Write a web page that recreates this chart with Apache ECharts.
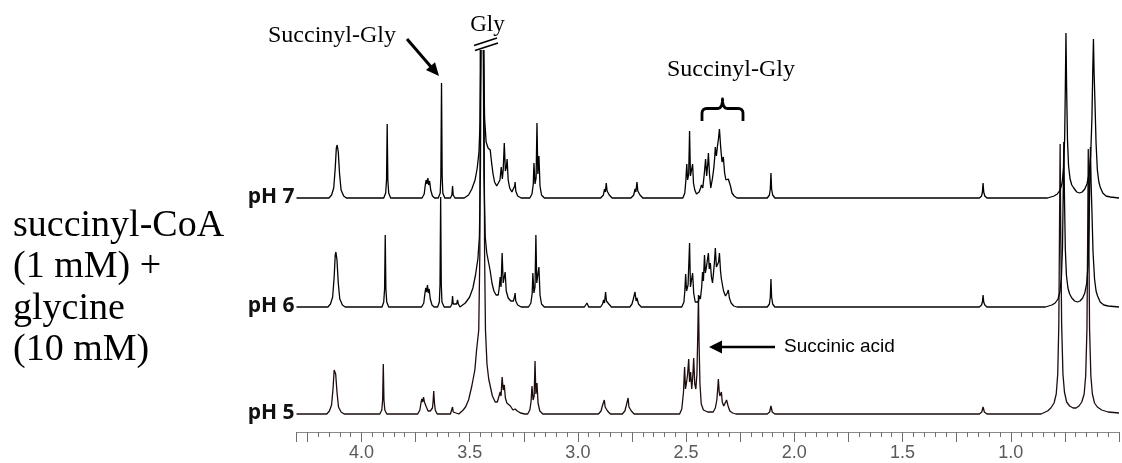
<!DOCTYPE html>
<html>
<head>
<meta charset="utf-8">
<script src="https://cdn.jsdelivr.net/npm/echarts@6/dist/echarts.min.js"></script>
<style>
  html, body { margin: 0; padding: 0; background: #fff; }
  #main { width: 1122px; height: 463px; }
</style>
</head>
<body>
<div id="main"></div>
<script>
// 1H NMR spectra of succinyl-CoA + glycine at three pH values.
// Each trace: [chemical shift (ppm), intensity above its own baseline].
// A null intensity marks where the off-scale Gly signal is cut.
const PH7 = [
  [4.30,0],[4.15,0],[4.138,3],[4.128,10],[4.121,30],[4.116,50],[4.112,53],[4.107,46],[4.101,24],[4.094,8],[4.082,2],[4.07,0],
  [3.897,0],[3.888,5],[3.884,18],[3.881,74],[3.878,18],[3.874,5],[3.865,0],
  [3.72,0],[3.71,4],[3.705,13],[3.701,18],[3.697,14],[3.693,20],[3.689,13],[3.685,17],[3.680,8],[3.672,2],[3.662,0],
  [3.645,0],[3.636,5],[3.633,22],[3.630,115],[3.627,22],[3.624,5],[3.615,0],
  [3.589,0],[3.582,3],[3.579,12],[3.576,3],[3.568,0],
  [3.525,0],[3.505,3],[3.49,9],[3.475,18],[3.465,30],[3.457,46],[3.452,75],[3.448,148],[3.442,null],[3.436,148],[3.431,80],[3.424,56],[3.415,50],[3.405,48],[3.399,36],[3.392,24],[3.385,16],[3.375,12],[3.366,12],
  [3.360,18],[3.354,31],[3.349,19],[3.345,28],[3.340,55],[3.335,27],[3.330,31],[3.327,39],[3.322,18],[3.315,10],[3.305,6],[3.296,7],[3.292,12],[3.290,16],[3.287,7],[3.278,2],[3.262,0],
  [3.222,0],[3.212,4],[3.206,14],[3.203,35],[3.198,14],[3.193,20],[3.189,75],[3.185,24],[3.180,42],[3.175,12],[3.168,3],[3.155,0],
  [2.895,0],[2.882,3],[2.877,9],[2.873,6],[2.869,15],[2.865,7],[2.861,9],[2.855,3],[2.842,0],
  [2.755,0],[2.742,3],[2.736,9],[2.732,6],[2.727,16],[2.723,7],[2.719,9],[2.713,3],[2.70,0],
  [2.515,0],[2.506,5],[2.501,18],[2.497,34],[2.493,18],[2.488,24],[2.484,67],[2.480,22],[2.475,22],[2.470,34],[2.466,15],[2.46,8],[2.452,4],
  [2.44,6],[2.433,10],[2.429,13],[2.423,10],[2.416,24],[2.410,39],[2.405,22],[2.400,34],[2.397,45],[2.392,24],[2.386,10],[2.383,8],
  [2.378,20],[2.372,30],[2.368,40],[2.365,51],[2.360,42],[2.355,52],[2.350,60],[2.346,69],[2.340,50],[2.334,36],[2.328,41],[2.322,25],
  [2.316,18],[2.310,17],[2.305,19],[2.300,21],[2.295,12],[2.288,5],[2.278,2],[2.265,0],
  [2.125,0],[2.115,3],[2.111,9],[2.108,25],[2.105,9],[2.100,3],[2.09,0],
  [1.145,0],[1.135,2],[1.131,6],[1.128,15],[1.125,6],[1.12,2],[1.11,0],
  [0.83,0],[0.80,2],[0.785,4],[0.772,8],[0.763,15],[0.756,30],[0.751,60],[0.748,110],[0.745,165],[0.742,110],[0.738,58],[0.733,32],[0.726,19],[0.718,13],[0.709,10],[0.695,6],[0.682,5],
  [0.67,6],[0.658,9],[0.648,14],[0.638,24],[0.631,42],[0.625,80],[0.621,130],[0.618,159],[0.615,125],[0.611,95],[0.606,55],[0.600,28],[0.593,16],[0.587,11],[0.575,5],[0.56,2],[0.54,1],[0.50,0]
];

const PH6 = [
  [4.30,0],[4.155,0],[4.143,3],[4.133,10],[4.126,30],[4.121,52],[4.118,55],[4.113,47],[4.107,24],[4.1,8],[4.088,2],[4.075,0],
  [3.905,0],[3.897,5],[3.893,18],[3.890,72],[3.887,18],[3.883,5],[3.874,0],
  [3.722,0],[3.712,4],[3.707,13],[3.703,19],[3.699,15],[3.695,22],[3.691,14],[3.687,18],[3.682,8],[3.674,2],[3.664,0],
  [3.648,0],[3.640,5],[3.637,22],[3.634,110],[3.631,22],[3.628,5],[3.618,0],
  [3.589,0],[3.582,3],[3.579,11],[3.576,3],[3.567,2],[3.560,3],[3.556,7],[3.552,3],[3.545,0],
  [3.54,0],[3.52,4],[3.50,10],[3.485,19],[3.473,32],[3.462,48],[3.455,70],[3.450,140],[3.448,257],[3.442,null],[3.437,257],[3.434,130],[3.428,70],[3.421,54],[3.413,45],[3.405,36],[3.397,24],[3.388,16],[3.378,12],[3.368,12],
  [3.364,18],[3.359,30],[3.355,20],[3.350,54],[3.345,24],[3.340,26],[3.336,35],[3.331,16],[3.322,9],[3.31,6],[3.298,6],[3.293,10],[3.290,14],[3.287,6],[3.278,2],[3.262,0],
  [3.228,0],[3.217,4],[3.211,14],[3.208,34],[3.203,14],[3.198,20],[3.194,72],[3.19,24],[3.184,22],[3.180,40],[3.175,12],[3.168,3],[3.155,0],
  [2.97,0],[2.958,4],[2.95,0],
  [2.895,0],[2.886,3],[2.881,7],[2.877,4],[2.872,15],[2.868,6],[2.864,8],[2.857,3],[2.845,0],
  [2.76,0],[2.75,3],[2.745,7],[2.741,5],[2.736,15],[2.731,6],[2.727,9],[2.72,3],[2.707,0],
  [2.52,0],[2.51,5],[2.506,16],[2.502,33],[2.498,16],[2.491,22],[2.484,64],[2.480,20],[2.475,20],[2.470,34],[2.465,14],[2.458,5],[2.450,3],
  [2.444,5],[2.438,11],[2.434,8],[2.428,20],[2.424,35],[2.420,26],[2.415,52],[2.411,34],[2.406,40],[2.401,48],[2.397,54],[2.393,38],[2.388,44],[2.383,30],[2.378,24],
  [2.373,35],[2.369,45],[2.365,59],[2.360,40],[2.355,38],[2.350,45],[2.346,54],[2.341,36],[2.337,28],[2.333,30],[2.327,16],[2.318,11],[2.310,14],[2.305,17],[2.300,9],[2.292,4],[2.28,1],[2.265,0],
  [2.125,0],[2.115,3],[2.111,10],[2.108,28],[2.105,10],[2.10,3],[2.09,0],
  [1.145,0],[1.135,2],[1.131,5],[1.128,12],[1.125,5],[1.12,2],[1.11,0],
  [0.84,0],[0.81,2],[0.795,4],[0.782,8],[0.773,15],[0.766,30],[0.761,60],[0.758,110],[0.755,165],[0.752,110],[0.748,58],[0.743,32],[0.736,19],[0.728,13],[0.718,9],[0.705,6],[0.692,5],
  [0.68,6],[0.668,9],[0.658,14],[0.649,24],[0.643,42],[0.638,80],[0.635,130],[0.632,160],[0.629,125],[0.625,95],[0.620,55],[0.613,28],[0.606,16],[0.599,11],[0.587,5],[0.57,2],[0.55,1],[0.50,0]
];

const PH5 = [
  [4.30,0],[4.16,0],[4.148,3],[4.138,9],[4.131,26],[4.126,44],[4.123,46],[4.119,40],[4.113,22],[4.106,7],[4.094,2],[4.08,0],
  [3.915,0],[3.906,4],[3.902,14],[3.899,50],[3.896,14],[3.892,4],[3.883,0],
  [3.74,0],[3.73,4],[3.725,11],[3.721,15],[3.717,12],[3.713,17],[3.709,12],[3.705,14],[3.700,7],[3.692,3],[3.682,3],[3.672,6],[3.669,12],[3.666,23],[3.663,12],[3.659,4],[3.65,0],
  [3.589,0],[3.582,2],[3.579,7],[3.576,2],[3.567,0],
  [3.55,0],[3.53,4],[3.519,7],[3.505,14],[3.49,28],[3.476,44],[3.468,64],[3.458,84],[3.453,160],[3.451,364],[3.442,null],[3.434,364],[3.431,160],[3.427,84],[3.42,50],[3.412,35],[3.404,27],[3.395,18],[3.382,12],[3.372,12],
  [3.367,16],[3.359,22],[3.355,18],[3.350,37],[3.345,24],[3.340,29],[3.335,16],[3.328,11],[3.320,12],[3.312,8],[3.30,4],[3.29,5],[3.28,3],[3.265,1],[3.245,0],
  [3.232,0],[3.222,4],[3.216,13],[3.212,28],[3.207,14],[3.202,18],[3.198,53],[3.194,20],[3.189,31],[3.184,11],[3.176,3],[3.162,0],
  [2.905,0],[2.893,3],[2.887,8],[2.883,6],[2.878,14],[2.874,7],[2.870,8],[2.863,3],[2.85,0],
  [2.795,0],[2.783,3],[2.777,8],[2.773,6],[2.768,16],[2.764,7],[2.760,8],[2.753,3],[2.74,0],
  [2.53,0],[2.52,5],[2.512,22],[2.507,47],[2.503,25],[2.499,30],[2.493,40],[2.488,55],[2.484,32],[2.479,42],[2.474,25],[2.469,38],[2.465,56],[2.460,30],[2.455,25],[2.450,40],[2.446,80],[2.443,119],[2.440,70],[2.436,30],[2.43,10],[2.42,4],[2.40,2],
  [2.375,2],[2.365,6],[2.358,14],[2.354,25],[2.351,35],[2.347,22],[2.344,18],[2.340,16],[2.337,22],[2.333,12],[2.326,8],[2.318,10],[2.313,14],[2.310,16],[2.306,8],[2.298,3],[2.285,1],[2.27,0],
  [2.125,0],[2.114,2],[2.108,8],[2.102,2],[2.09,0],
  [1.145,0],[1.134,2],[1.128,7],[1.122,2],[1.11,0],
  [0.86,0],[0.83,3],[0.815,6],[0.80,11],[0.79,20],[0.783,40],[0.778,90],[0.775,180],[0.772,270],[0.769,180],[0.765,90],[0.759,40],[0.752,22],[0.742,12],[0.728,8],[0.712,6],[0.698,6],
  [0.685,8],[0.672,12],[0.661,20],[0.654,38],[0.648,85],[0.645,170],[0.642,265],[0.639,170],[0.636,85],[0.630,38],[0.623,20],[0.613,11],[0.60,7],[0.58,4],[0.55,2],[0.50,1]
];

const TRACE_NAMES = ['pH 7', 'pH 6', 'pH 5'];
const X_LABEL_STEP = 0.5;

// vertical stacking of the three traces (same units as the intensities)
const TRACE_OFFSETS = [234, 125, 18];
const TRACE_COLORS = ['#000000', '#050505', '#1e0c0c'];

const chart = echarts.init(document.getElementById('main'), null, { renderer: 'canvas' });

function toSeriesData(points, offset) {
  return points.map(([ppm, h]) => [ppm, h === null ? '-' : h + offset]);
}

const traces = [PH7, PH6, PH5];
const series = traces.map((pts, i) => ({
  name: TRACE_NAMES[i],
  type: 'line',
  data: toSeriesData(pts, TRACE_OFFSETS[i]),
  showSymbol: false,
  symbol: 'none',
  connectNulls: false,
  clip: false,
  lineStyle: { color: TRACE_COLORS[i], width: 1.3 },
  z: 3 - i
}));

chart.setOption({
  animation: false,
  backgroundColor: '#ffffff',
  grid: { left: 296.5, right: -4, top: 0, bottom: 31, containLabel: false },
  xAxis: {
    type: 'value',
    inverse: true,
    min: 0.5,
    max: 4.3,
    interval: 0.25,
    axisLine: { show: true, lineStyle: { color: '#8a8a8a', width: 1.2 } },
    axisTick: { show: true, inside: false, length: 10, lineStyle: { color: '#6f6f6f', width: 1 } },
    minorTick: { show: true, splitNumber: 5, length: 5, lineStyle: { color: '#6f6f6f', width: 1 } },
    splitLine: { show: false },
    minorSplitLine: { show: false },
    axisLabel: {
      margin: 12,
      color: '#5a5a5a',
      fontSize: 18,
      fontFamily: 'Liberation Sans, Arial, sans-serif',
      formatter: function (v) {
        const k = Math.round(v / X_LABEL_STEP);
        if (Math.abs(v - k * X_LABEL_STEP) > 1e-6 || v < 0.75) return '';
        return v.toFixed(1);
      }
    }
  },
  yAxis: { type: 'value', min: 0, max: 432, show: false },
  series: series
});

// ---- annotations ----
const SERIF = '"Liberation Serif", "Times New Roman", serif';
const SANS = '"Liberation Sans", Arial, sans-serif';

function arrow(x1, y1, x2, y2, width, headLen, headHalf) {
  const dx = x2 - x1, dy = y2 - y1, L = Math.hypot(dx, dy);
  const ux = dx / L, uy = dy / L, nx = -uy, ny = ux;
  const bx = x2 - ux * headLen, by = y2 - uy * headLen;
  return [
    { type: 'line', shape: { x1: x1, y1: y1, x2: bx + ux, y2: by + uy }, style: { stroke: '#000', lineWidth: width } },
    { type: 'polygon', shape: { points: [[x2, y2], [bx + nx * headHalf, by + ny * headHalf], [bx - nx * headHalf, by - ny * headHalf]] }, style: { fill: '#000' } }
  ];
}

// quadratic curve sampled into polyline points
function quad(p0, c, p1, n) {
  const out = [];
  for (let k = 0; k <= n; k++) {
    const t = k / n, a = (1 - t) * (1 - t), b = 2 * (1 - t) * t, d = t * t;
    out.push([a * p0[0] + b * c[0] + d * p1[0], a * p0[1] + b * c[1] + d * p1[1]]);
  }
  return out;
}

function brace(xl, xr, yTip, yBar, yEnd) {
  const xm = (xl + xr) / 2, r = 5;
  return [].concat(
    [[xl, yEnd]],
    quad([xl, yBar + r], [xl, yBar], [xl + r, yBar], 6),
    quad([xm - r, yBar], [xm, yBar], [xm, yTip], 6),
    quad([xm, yTip], [xm, yBar], [xm + r, yBar], 6),
    quad([xr - r, yBar], [xr, yBar], [xr, yBar + r], 6),
    [[xr, yEnd]]
  );
}

const baseX = chart.convertToPixel({ xAxisIndex: 0 }, 4.3);
const labelEls = TRACE_NAMES.map((name, i) => {
  const y = chart.convertToPixel({ yAxisIndex: 0 }, TRACE_OFFSETS[i]);
  return {
    type: 'text',
    style: { x: baseX - 2, y: y - 1, text: name, fill: '#111', font: 'bold 21px "Open Sans", sans-serif', textAlign: 'right', textVerticalAlign: 'middle' }
  };
});

const leftLines = ['succinyl-CoA', '(1 mM) +', 'glycine', '(10 mM)'];
const leftEls = leftLines.map((t, i) => ({
  type: 'text',
  style: { x: 13, y: 226 + i * 41.5, text: t, fill: '#000', font: '38px ' + SERIF, textAlign: 'left', textVerticalAlign: 'middle' }
}));

const graphics = [].concat(
  labelEls,
  leftEls,
  [
    { type: 'text', style: { x: 268, y: 36, text: 'Succinyl-Gly', fill: '#000', font: '24px ' + SERIF, textAlign: 'left', textVerticalAlign: 'middle' } },
    { type: 'text', style: { x: 487.5, y: 25, text: 'Gly', fill: '#000', font: '23px ' + SERIF, textAlign: 'center', textVerticalAlign: 'middle' } },
    { type: 'text', style: { x: 667, y: 70, text: 'Succinyl-Gly', fill: '#000', font: '24px ' + SERIF, textAlign: 'left', textVerticalAlign: 'middle' } },
    { type: 'text', style: { x: 784, y: 347, text: 'Succinic acid', fill: '#000', font: '19px ' + SANS, textAlign: 'left', textVerticalAlign: 'middle' } },
    // break marks over the off-scale Gly signal
    { type: 'line', shape: { x1: 474, y1: 45.5, x2: 497, y2: 38 }, style: { stroke: '#000', lineWidth: 1.7 } },
    { type: 'line', shape: { x1: 475, y1: 50.5, x2: 498, y2: 43 }, style: { stroke: '#000', lineWidth: 1.7 } },
    // brace over the succinyl-Gly multiplets
    { type: 'polyline', shape: { points: brace(702, 743, 99, 108.5, 121) }, style: { stroke: '#000', lineWidth: 2.8, fill: null, lineJoin: 'round' } }
  ],
  arrow(407, 39, 439, 76, 3, 13, 6),
  arrow(775, 347, 709, 347, 2.6, 13, 6.5)
);

chart.setOption({ graphic: graphics });
</script>
</body>
</html>
